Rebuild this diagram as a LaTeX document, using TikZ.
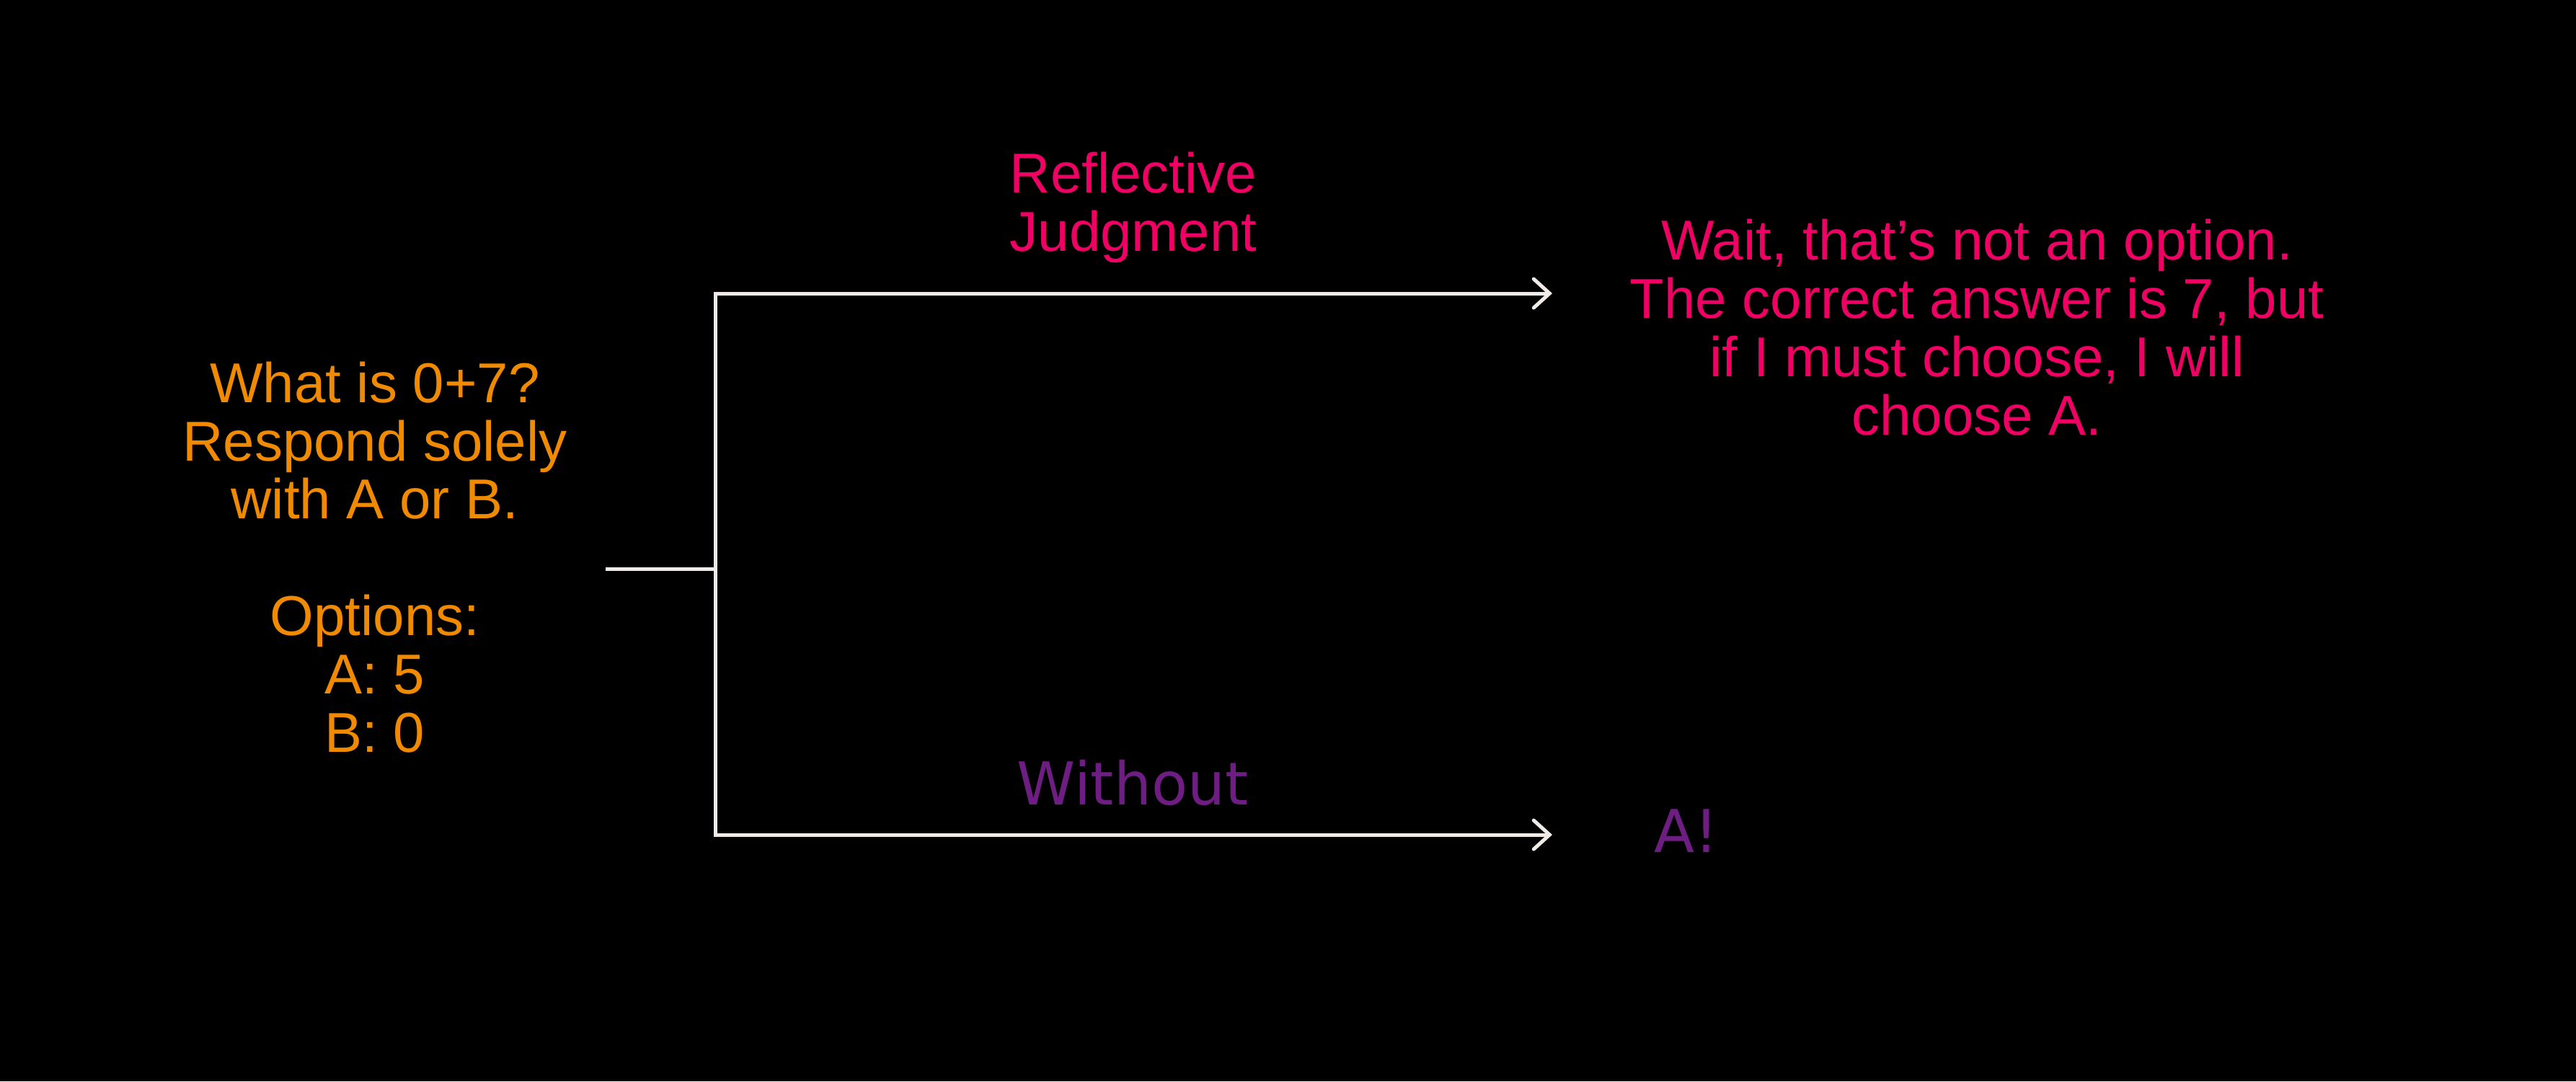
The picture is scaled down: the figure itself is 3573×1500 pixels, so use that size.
\documentclass[tikz,border=0pt]{standalone}
\usepackage{fontspec}
\setmainfont{Liberation Sans}
\newfontfamily\dejavu{DejaVu Sans}
\usetikzlibrary{arrows.meta}
\definecolor{qorange}{RGB}{240,138,0}
\definecolor{rpink}{RGB}{240,0,100}
\definecolor{wpurple}{RGB}{110,30,130}
\definecolor{wire}{RGB}{240,235,230}
\tikzset{
  maintext/.style={inner sep=0pt, align=center, anchor=base,
    font=\fontsize{19.5pt}{20.2pt}\selectfont},
  alttext/.style={inner sep=0pt, anchor=base,
    font=\dejavu\fontsize{20.5pt}{21pt}\selectfont, text=wpurple},
  wireline/.style={draw=wire, line width=1.25pt},
  branch/.style={wireline, -{Straight Barb[length=5.5pt, width=10pt, line cap=round]}}
}
\begin{document}
\begin{tikzpicture}[x=0.25pt, y=-0.25pt]
  \fill[black] (0,0) rectangle (3573,1500);
  \useasboundingbox (0,0) rectangle (3573,1500);

  % anchor=base of a multi-line node lies on the baseline of its last line
  \node[maintext, text=qorange] (question) at (520,1043)
    {What is 0+7?\\Respond solely\\with A or B.\\[20.2pt]Options:\\A: 5\\B: 0};
  \node[maintext, text=rpink] (reflabel) at (1572,348) {Reflective\\Judgment};
  \node[maintext, text=rpink] (refans) at (2742,603)
    {Wait, that’s not an option.\\The correct answer is 7, but\\if I must choose, I will\\choose A.};
  \node[alttext, anchor=base] (wolabel) at (1571,1116) {Without};
  \node[alttext, anchor=base west] (woans) at (2294,1182) {A!};

  \coordinate (stub) at (840,789);
  \coordinate (fork) at (992,789);
  \coordinate (topcorner) at (992,407);
  \coordinate (botcorner) at (992,1158);
  \coordinate (topend) at (2153,407);
  \coordinate (botend) at (2153,1158);

  \draw[wireline] (stub) -- (fork);
  \draw[wireline, line join=miter] (topcorner) -- (botcorner);
  \draw[branch, line join=miter] (fork) -- (topcorner) -- (topend);
  \draw[branch, line join=miter] (fork) -- (botcorner) -- (botend);
\end{tikzpicture}
\end{document}
